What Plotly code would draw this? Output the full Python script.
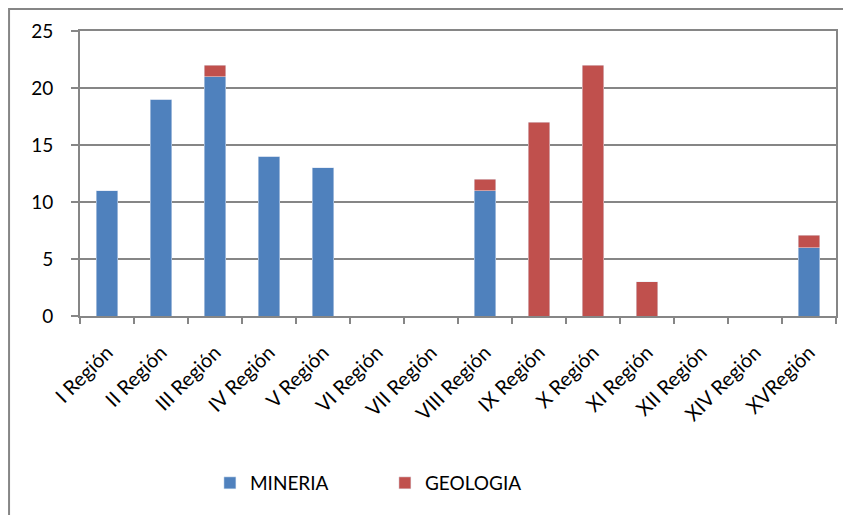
import plotly.graph_objects as go

categories = ["I Región", "II Región", "III Región", "IV Región", "V Región", "VI Región",
              "VII Región", "VIII Región", "IX Región", "X Región", "XI Región",
              "XII Región", "XIV Región", "XVRegión"]
mineria = [11, 19, 21, 14, 13, 0, 0, 11, 0, 0, 0, 0, 0, 6]
geologia = [0, 0, 1, 0, 0, 0, 0, 1, 17, 22, 3, 0, 0, 1.1]
y_ticks = [0, 5, 10, 15, 20, 25]

# page body has an 8px margin; work in reference pixel coords and shift
OFF = 8
W, H = 851 - OFF, 515 - OFF
L, T = 80 - OFF, 31 - OFF
R = W - (836.5 - OFF)
B = H - (316 - OFF)
pw, ph = W - L - R, H - T - B

FONT = "Lato"
GRAY = "#868686"

fig = go.Figure()
fig.add_trace(go.Bar(x=categories, y=mineria, name="MINERIA", marker_color="#4F81BD"))
fig.add_trace(go.Bar(x=categories, y=geologia, name="GEOLOGIA", marker_color="#C0504D"))

def px2x(px):
    return (px - OFF - L) / pw

def py2y(py):
    return (H - B - (py - OFF)) / ph

fig.update_layout(
    width=W, height=H,
    margin=dict(l=L, r=R, t=T, b=B),
    barmode="stack",
    bargap=0.6,
    plot_bgcolor="white",
    paper_bgcolor="white",
    font=dict(family=FONT, color="black"),
    showlegend=True,
    legend=dict(orientation="h", x=px2x(210), y=py2y(483), xanchor="left", yanchor="middle",
                font=dict(size=19, family=FONT), entrywidth=130, entrywidthmode="pixels",
                traceorder="normal"),
    xaxis=dict(type="category", showline=True, linecolor=GRAY, linewidth=2, mirror=True,
               ticks="outside", tickson="boundaries", ticklen=6, tickwidth=2, tickcolor=GRAY,
               tickangle=-45, tickfont=dict(size=20, family=FONT), ticklabelstandoff=15,
               showgrid=False),
    yaxis=dict(range=[0, 25], tickvals=y_ticks, showline=True, linecolor=GRAY, linewidth=2,
               mirror=True, ticks="outside", ticklen=7, tickwidth=2, tickcolor=GRAY,
               showgrid=True, gridcolor=GRAY, gridwidth=1.5, zeroline=False,
               tickfont=dict(size=19, family=FONT), ticklabelstandoff=14),
    shapes=[dict(type="rect", xref="paper", yref="paper",
                 x0=px2x(9), x1=px2x(880), y0=py2y(540), y1=py2y(9),
                 line=dict(color=GRAY, width=2), fillcolor="rgba(0,0,0,0)", layer="below")],
)

fig.write_html("out.html")
